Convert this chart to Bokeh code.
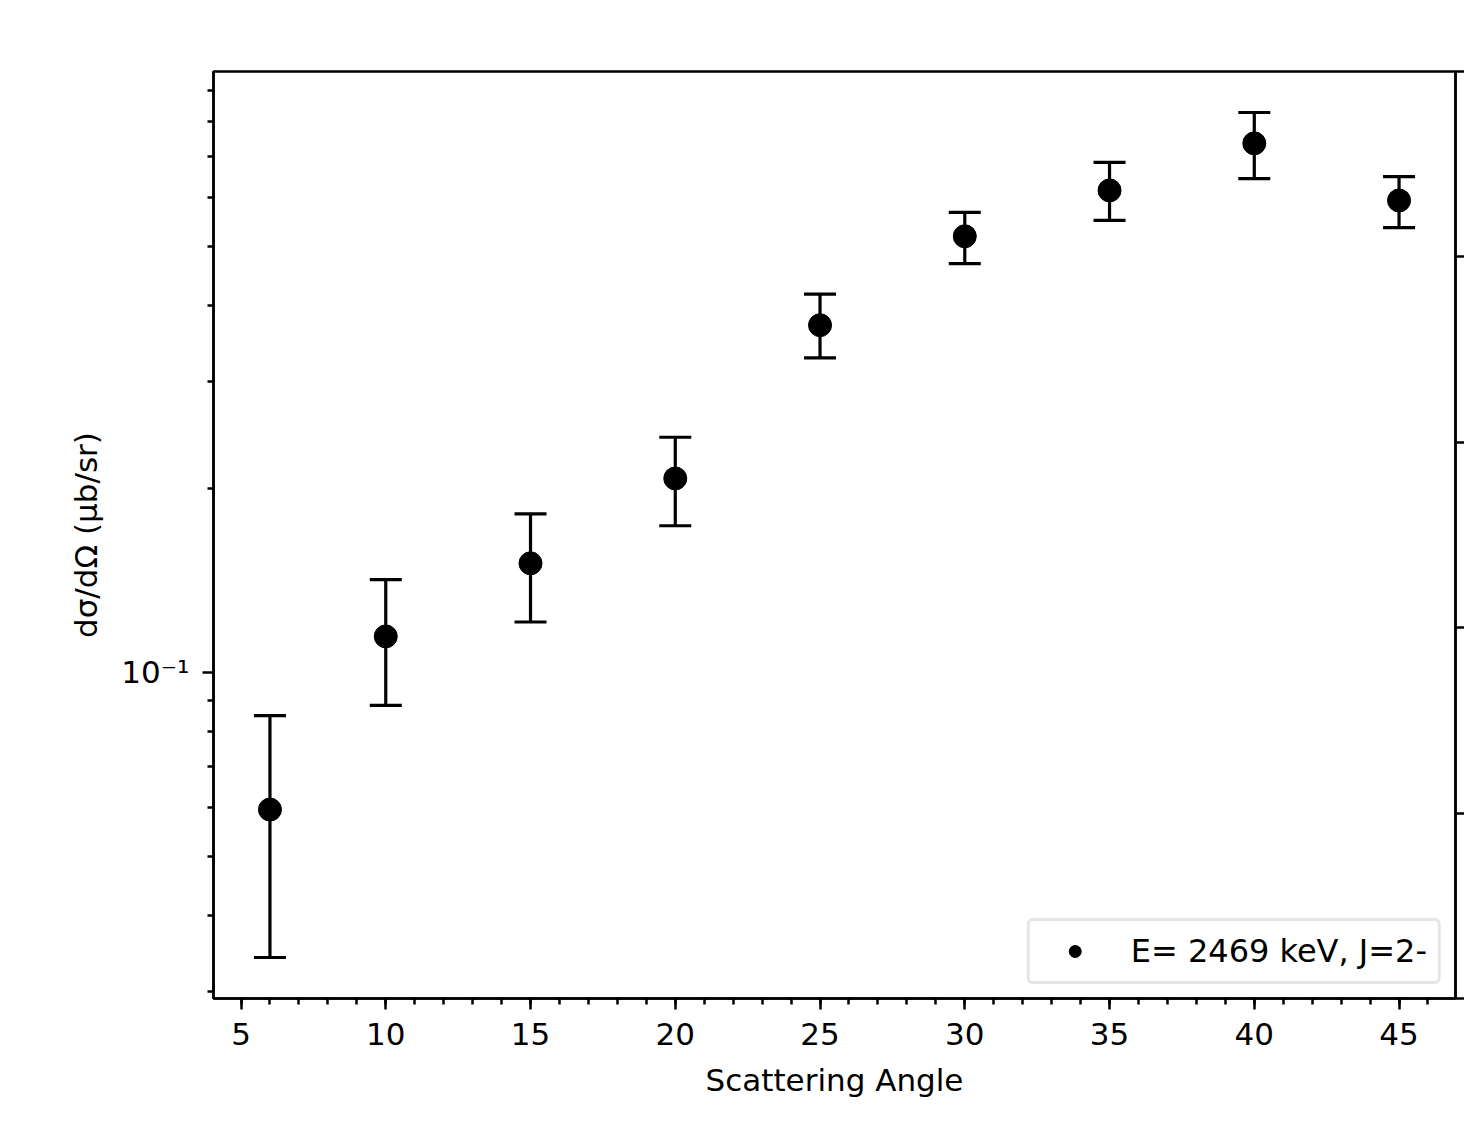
from bokeh.plotting import figure
from bokeh.models import (Range1d, LinearAxis, LinearScale, FixedTicker, CustomJSTickFormatter,
                          Whisker, TeeHead, ColumnDataSource, Legend, LegendItem)
from bokeh.embed import file_html
from bokeh.resources import INLINE

# ---- data ----
angles = [6, 10, 15, 20, 25, 30, 35, 40, 45]
xsec = [0.0596, 0.1146, 0.151, 0.208, 0.371, 0.519, 0.617, 0.737, 0.594]
xsec_hi = [0.0850, 0.142, 0.182, 0.243, 0.417, 0.568, 0.686, 0.828, 0.650]
xsec_lo = [0.0341, 0.0883, 0.121, 0.174, 0.328, 0.468, 0.551, 0.645, 0.536]
x_major = [5, 10, 15, 20, 25, 30, 35, 40, 45]
x_minor = list(range(5, 47))
y_major = [0.1]
y_minor = [0.03, 0.04, 0.05, 0.06, 0.07, 0.08, 0.09, 0.2, 0.3, 0.4, 0.5, 0.6, 0.7, 0.8, 0.9]
right_ticks = [0.0, 0.2, 0.4, 0.6, 0.8, 1.0]
legend_label = "E= 2469 keV, J=2-"

FONT = "DejaVu Sans"
FS = "31px"
LW = 2.5

p = figure(width=1464, height=1118, output_backend="svg", toolbar_location=None,
           x_axis_type="linear", y_axis_type="log",
           x_range=Range1d(4.05, 46.95), y_range=Range1d(0.02921, 0.9666),
           min_border_left=213, min_border_top=71, min_border_right=9, min_border_bottom=120)
p.xgrid.visible = False
p.ygrid.visible = False
p.outline_line_color = "black"
p.outline_line_width = LW
p.background_fill_color = "white"
p.border_fill_color = "white"

src = ColumnDataSource(dict(x=angles, y=xsec, hi=xsec_hi, lo=xsec_lo))

w = Whisker(source=src, base="x", upper="hi", lower="lo", dimension="height",
            line_color="black", line_width=3.2,
            upper_head=TeeHead(size=32, line_color="black", line_width=3.2),
            lower_head=TeeHead(size=32, line_color="black", line_width=3.2))
p.add_layout(w)
# small markers (hidden under the big ones) give the legend its small dot
leg_r = p.scatter("x", "y", source=src, size=12, marker="circle", fill_color="black", line_color="black")
p.scatter("x", "y", source=src, size=23, marker="circle", fill_color="black", line_color="black")

def style_axis(ax):
    ax.axis_line_width = LW
    ax.axis_line_color = "black"
    ax.major_tick_line_width = LW
    ax.minor_tick_line_width = LW
    ax.major_tick_in = 0
    ax.major_tick_out = 11
    ax.minor_tick_in = 0
    ax.minor_tick_out = 6
    ax.major_label_text_font = FONT
    ax.major_label_text_font_size = FS
    ax.major_label_text_color = "black"
    ax.axis_label_text_font = FONT
    ax.axis_label_text_font_size = FS
    ax.axis_label_text_font_style = "normal"
    ax.axis_label_text_color = "black"

xa = p.xaxis[0]
style_axis(xa)
xa.ticker = FixedTicker(ticks=x_major, minor_ticks=x_minor)
xa.axis_label = "Scattering Angle"
xa.major_label_standoff = 13
xa.axis_label_standoff = 14

ya = p.yaxis[0]
style_axis(ya)
ya.ticker = FixedTicker(ticks=y_major, minor_ticks=y_minor)
ya.formatter = CustomJSTickFormatter(code="""
const e = Math.round(Math.log10(tick));
const sup = {'-':'\u207b','0':'\u2070','1':'\u00b9','2':'\u00b2','3':'\u00b3','4':'\u2074','5':'\u2075','6':'\u2076','7':'\u2077','8':'\u2078','9':'\u2079'};
return '10' + String(e).split('').map(c => sup[c]).join('');
""")
ya.axis_label = "dσ/dΩ (μb/sr)"
ya.major_label_standoff = 13
ya.axis_label_standoff = 14

# right twin axis (its labels are off-screen in the reference)
p.extra_y_ranges = {"right": Range1d(0, 1)}
p.extra_y_scales = {"right": LinearScale()}
ra = LinearAxis(y_range_name="right")
style_axis(ra)
ra.major_tick_out = 9
ra.ticker = FixedTicker(ticks=right_ticks, minor_ticks=[])
ra.formatter = CustomJSTickFormatter(code="return '';")
ra.major_label_text_font_size = "1px"
ra.major_label_standoff = 0
ra.axis_label_standoff = 0
p.add_layout(ra, "right")

legend = Legend(items=[LegendItem(label=legend_label, renderers=[leg_r])],
                location="bottom_right")
legend.label_text_font = FONT
legend.label_text_font_size = "32px"
legend.label_text_color = "black"
legend.glyph_width = 68
legend.glyph_height = 30
legend.label_standoff = 22
legend.padding = 11
legend.margin = 14
legend.border_line_color = "#cccccc"
legend.border_line_width = 3
legend.background_fill_color = "white"
legend.background_fill_alpha = 0.8
if "border_radius" in Legend.properties():
    legend.border_radius = 6
p.add_layout(legend)

open("out.html", "w").write(file_html(p, INLINE))
